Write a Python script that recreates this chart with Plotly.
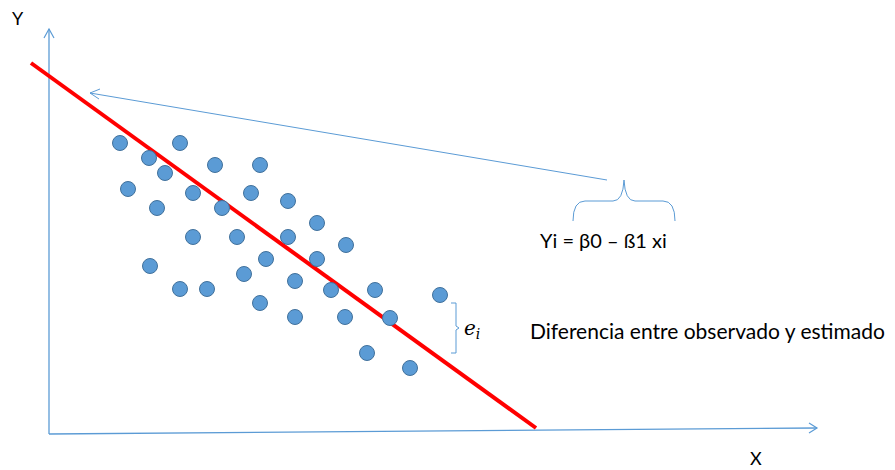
import plotly.graph_objects as go

# Observed points (diagram units: x right, y down)
obs_x = [120, 180, 149, 165, 215, 260, 128, 193, 251, 288, 157, 222, 317, 193, 237, 288, 346,
         150, 266, 317, 244, 295, 180, 207, 331, 260, 295, 345, 375, 440, 390, 367, 410]
obs_y = [143, 143, 158, 173, 165, 165, 189, 193, 193, 201, 208, 208, 223, 237, 237, 237, 245,
         266, 259, 259, 274, 281, 289, 289, 290, 303, 317, 317, 290, 295, 318, 353, 368]

# Estimated regression line endpoints
fit_x = [31, 536]
fit_y = [63, 428]

# Axes
yaxis_x = [49, 49]
yaxis_y = [434, 29]
xaxis_x = [49, 817]
xaxis_y = [434, 428]

# Pointer from formula to line
ptr_x = [607, 90]
ptr_y = [180, 93]

AX = "#5B9BD5"
fig = go.Figure()

fig.add_trace(go.Scatter(x=yaxis_x, y=yaxis_y, mode="lines", line=dict(color=AX, width=1.3), hoverinfo="skip"))
fig.add_trace(go.Scatter(x=xaxis_x, y=xaxis_y, mode="lines", line=dict(color=AX, width=1.3), hoverinfo="skip"))
fig.add_trace(go.Scatter(x=ptr_x, y=ptr_y, mode="lines", line=dict(color=AX, width=1), hoverinfo="skip"))

shapes = []
# arrowheads (open chevrons)
shapes.append(dict(type="path", xref="x", yref="y",
                   path=f"M {yaxis_x[1]-5},{yaxis_y[1]+9} L {yaxis_x[1]},{yaxis_y[1]} L {yaxis_x[1]+5},{yaxis_y[1]+9}",
                   line=dict(color=AX, width=1.2)))
shapes.append(dict(type="path", xref="x", yref="y",
                   path=f"M {xaxis_x[1]-8},{xaxis_y[1]-5} L {xaxis_x[1]},{xaxis_y[1]} L {xaxis_x[1]-8},{xaxis_y[1]+5}",
                   line=dict(color=AX, width=1.2)))
shapes.append(dict(type="path", xref="x", yref="y",
                   path=f"M {ptr_x[1]+10},{ptr_y[1]-4} L {ptr_x[1]},{ptr_y[1]} L {ptr_x[1]+9},{ptr_y[1]+6}",
                   line=dict(color=AX, width=1)))
# horizontal brace under pointer
shapes.append(dict(type="path", xref="x", yref="y",
                   path="M 573,221 Q 573,201 585,201 L 613,201 Q 623,201 624,180 Q 625,201 635,201 L 663,201 Q 675,201 675,221",
                   line=dict(color=AX, width=1)))
# vertical brace for residual
shapes.append(dict(type="path", xref="x", yref="y",
                   path="M 451,303 L 456,303 L 456,326 L 459,328 L 456,330 L 456,353 L 451,353",
                   line=dict(color=AX, width=1)))

fig.add_trace(go.Scatter(x=fit_x, y=fit_y, mode="lines", line=dict(color="#FF0000", width=4), hoverinfo="skip"))
fig.add_trace(go.Scatter(x=obs_x, y=obs_y, mode="markers",
                         marker=dict(size=15, color="#5B9BD5", line=dict(color="#41719C", width=1)),
                         hoverinfo="skip"))

TXT = "Lato, 'Open Sans', sans-serif"
annotations = [
    dict(x=18, y=18, text="Y", showarrow=False, font=dict(family=TXT, size=18, color="#000")),
    dict(x=756, y=458, text="X", showarrow=False, font=dict(family=TXT, size=18, color="#000")),
    dict(x=603, y=240, text="Yi = β0 – ß1 xi", showarrow=False, font=dict(family=TXT, size=20, color="#000")),
    dict(x=472, y=329, text="<i>e<sub>i</sub></i>", showarrow=False,
         font=dict(family="'DejaVu Serif', serif", size=20, color="#000")),
    dict(x=528, y=330, text="Diferencia entre observado y estimado", showarrow=False, xanchor="left",
         font=dict(family=TXT, size=21, color="#000")),
]

fig.update_layout(
    width=895, height=470,
    margin=dict(l=0, r=0, t=0, b=0),
    paper_bgcolor="white", plot_bgcolor="white",
    showlegend=False,
    xaxis=dict(range=[0, 895], visible=False, fixedrange=True),
    yaxis=dict(range=[470, 0], visible=False, fixedrange=True),
    shapes=shapes,
    annotations=annotations,
)

fig.write_html("out.html", config={"displayModeBar": False},
               post_script="document.body.style.margin='0';document.body.style.overflow='hidden';")
